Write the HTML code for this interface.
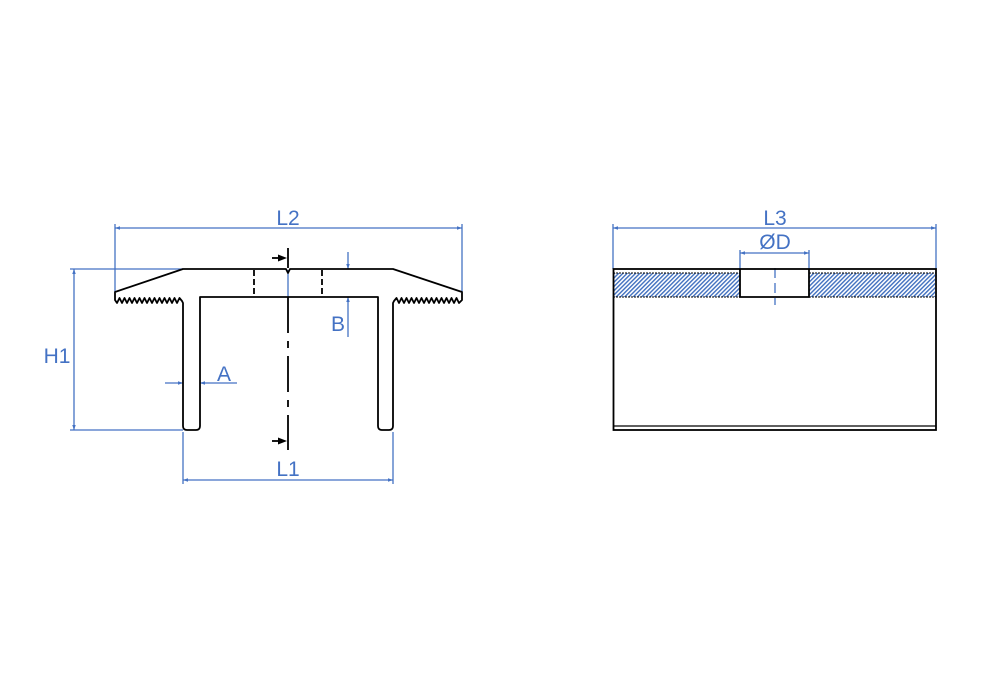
<!DOCTYPE html>
<html><head><meta charset="utf-8"><style>html,body{margin:0;padding:0;background:#fff}svg{display:block}</style></head>
<body>
<svg width="1000" height="700" viewBox="0 0 1000 700" xmlns="http://www.w3.org/2000/svg">
<defs>
<pattern id="h" width="3" height="3" patternUnits="userSpaceOnUse" patternTransform="rotate(45)">
<rect width="3" height="3" fill="#fff"/><rect width="1.4" height="3" fill="#3f6fbf"/>
</pattern>
<marker id="ar" viewBox="0 0 10 10" refX="10" refY="5" markerWidth="8" markerHeight="5" orient="auto-start-reverse" markerUnits="userSpaceOnUse"><path d="M0,1.5 L10,5 L0,8.5 Z" fill="#4472c4"/></marker>
</defs>
<g font-family="Liberation Sans, sans-serif" font-size="21" fill="#4472c4" text-anchor="middle">
<text x="288" y="225">L2</text>
<text x="288" y="476">L1</text>
<text x="57" y="363">H1</text>
<text x="224" y="381">A</text>
<text x="338" y="331">B</text>
<text x="775" y="225">L3</text>
<text x="775" y="249">ØD</text>
</g>
<g stroke="#4472c4" stroke-width="1.3" fill="none">
<line x1="115" y1="224" x2="115" y2="292"/><line x1="462" y1="224" x2="462" y2="292"/>
<line x1="115" y1="228" x2="462" y2="228" marker-start="url(#ar)" marker-end="url(#ar)"/>
<line x1="70" y1="269" x2="183" y2="269"/><line x1="70" y1="430" x2="183" y2="430"/>
<line x1="74" y1="269" x2="74" y2="430" marker-start="url(#ar)" marker-end="url(#ar)"/>
<line x1="183" y1="432" x2="183" y2="484"/><line x1="393" y1="432" x2="393" y2="484"/>
<line x1="183" y1="480" x2="393" y2="480" marker-start="url(#ar)" marker-end="url(#ar)"/>
<line x1="165" y1="383" x2="183" y2="383" marker-end="url(#ar)"/>
<line x1="237" y1="383" x2="200" y2="383" marker-end="url(#ar)"/>
<line x1="348" y1="252" x2="348" y2="269" marker-end="url(#ar)"/>
<line x1="348" y1="337" x2="348" y2="297" marker-end="url(#ar)"/>
<line x1="288" y1="270" x2="288" y2="297"/>
<line x1="613" y1="224" x2="613" y2="269"/><line x1="936" y1="224" x2="936" y2="269"/>
<line x1="613" y1="228" x2="936" y2="228" marker-start="url(#ar)" marker-end="url(#ar)"/>
<line x1="740" y1="250" x2="740" y2="269"/><line x1="809" y1="250" x2="809" y2="269"/>
<line x1="740" y1="253" x2="809" y2="253" marker-start="url(#ar)" marker-end="url(#ar)"/>
<line x1="775" y1="268" x2="775" y2="305" stroke-dasharray="10,5"/>
</g>
<g stroke="#000" stroke-width="1.8" fill="none" stroke-linejoin="round">
<path d="M115,292 L183,269 L286,269 L288,273 L290,269 L393,269 L462,292 L462,300 L459,303 L456.5,298 L454,303 L451.5,298 L449,303 L446.5,298 L444,303 L441.5,298 L439,303 L436.5,298 L434,303 L431.5,298 L429,303 L426.5,298 L424,303 L421.5,298 L419,303 L416.5,298 L414,303 L411.5,298 L409,303 L406.5,298 L404,303 L401.5,298 L399,303 L396.5,298 L394,301 L393,303 L393,426 Q393,430 389,430 L382,430 Q378,430 378,426 L378,297 L200,297 L200,426 Q200,430 196,430 L187,430 Q183,430 183,426 L183,303 L182,301 L179.5,298 L177,303 L174.5,298 L172,303 L169.5,298 L167,303 L164.5,298 L162,303 L159.5,298 L157,303 L154.5,298 L152,303 L149.5,298 L147,303 L144.5,298 L142,303 L139.5,298 L137,303 L134.5,298 L132,303 L129.5,298 L127,303 L124.5,298 L122,303 L119.5,298 L117,303 L115,300 Z"/>
<line x1="254" y1="270" x2="254" y2="297" stroke-dasharray="6,3"/>
<line x1="322" y1="270" x2="322" y2="297" stroke-dasharray="6,3"/>
<line x1="288" y1="248" x2="288" y2="268"/>
<line x1="288" y1="297" x2="288" y2="423" stroke-dasharray="36,8,7,8"/>
<line x1="288" y1="423" x2="288" y2="450"/>
</g>
<g fill="#000" stroke="#000" stroke-width="1.8">
<line x1="272" y1="258" x2="280" y2="258"/><path d="M278,254.5 L287,258 L278,261.5Z" stroke="none"/>
<line x1="272" y1="441" x2="280" y2="441"/><path d="M278,437.5 L287,441 L278,444.5Z" stroke="none"/>
</g>
<rect x="614" y="273" width="126" height="24" fill="url(#h)"/>
<rect x="809" y="273" width="126" height="24" fill="url(#h)"/>
<g stroke="#000" stroke-width="1.8" fill="none">
<rect x="613.5" y="269" width="322.5" height="161"/>
<line x1="613" y1="273" x2="740" y2="273" stroke-width="1" stroke-dasharray="2,1"/>
<line x1="809" y1="273" x2="936" y2="273" stroke-width="1" stroke-dasharray="2,1"/>
<line x1="613" y1="297" x2="740" y2="297" stroke-width="1" stroke-dasharray="2,1"/>
<line x1="809" y1="297" x2="936" y2="297" stroke-width="1" stroke-dasharray="2,1"/>
<path d="M740,269 L740,297 L809,297 L809,269"/>
<line x1="613" y1="426" x2="936" y2="426" stroke-width="1.3"/>
</g>
</svg>
</body></html>
